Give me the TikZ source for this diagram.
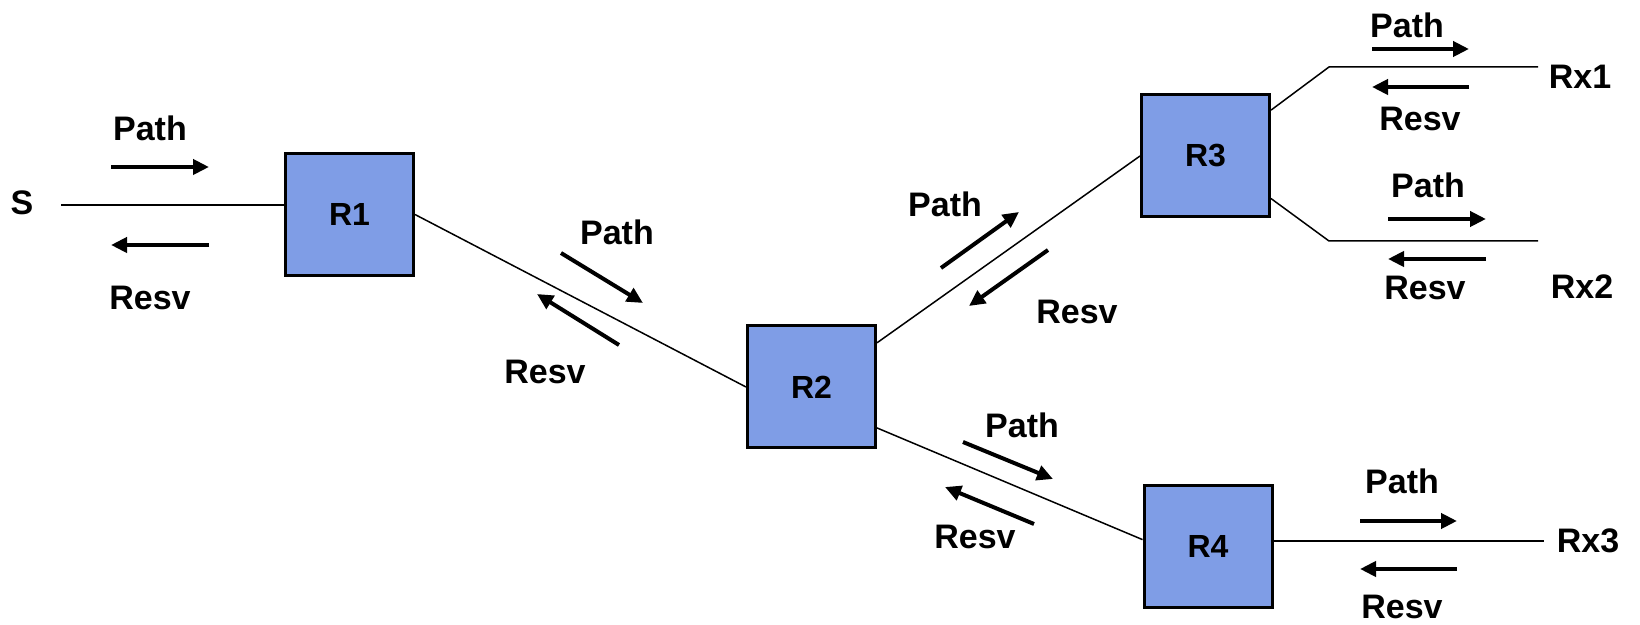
\documentclass[tikz,border=0pt]{standalone}
\usepackage{fontspec}
\setmainfont{Liberation Sans}
\usepackage{tikz}
\usetikzlibrary{arrows.meta}
\definecolor{boxblue}{RGB}{127,157,230}

\begin{document}
\begin{tikzpicture}[x=0.5pt, y=-0.5pt,
    router/.style={rectangle, draw, line width=1.5pt, fill=boxblue, minimum width=64pt, minimum height=61pt, font=\fontsize{16}{19}\selectfont\bfseries},
    lbl/.style={font=\fontsize{17}{20}\selectfont\bfseries, inner sep=0pt},
    link/.style={line width=0.75pt},
    msg/.style={line width=2pt, -{Triangle[length=8pt, width=7.5pt]}}]
    \useasboundingbox (0,0) rectangle (1640,625);
    % routers
    \node[router](r1) at (349.5,214.5){R1};
    \node[router](r2) at (811.5,387){R2};
    \node[router](r3) at (1205.5,156){R3};
    \node[router](r4) at (1208,546.5){R4};
    % hosts
    \node[lbl](s) at (22,203){S};
    \node[lbl](rx1) at (1580,77){Rx1};
    \node[lbl](rx2) at (1582,287){Rx2};
    \node[lbl](rx3) at (1588,541){Rx3};
    \coordinate (s0) at (61,205);
    \coordinate (k1) at (1329,67);
    \coordinate (e1) at (1538,67);
    \coordinate (k2) at (1329,241);
    \coordinate (e2) at (1538,241);
    \coordinate (e3) at (1544,541);
    % links
    \path[draw, link](s0)--(r1.west |- s0);
    \path[draw, link](r1.east)--(r2.west);
    \path[draw, link](r2.34)--(r3.west);
    \path[draw, link](r3.35)--(k1)--(e1);
    \path[draw, link](r3.-33)--(k2)--(e2);
    \path[draw, link](r2.-32)--(r4.174);
    \path[draw, link](r4.east |- e3)--(e3);
    % messages S - R1
    \node[lbl](p1) at (150,128){Path};
    \node[lbl](q1) at (150,298){Resv};
    \coordinate (p1a) at (111,167); \coordinate (p1b) at (209,167);
    \coordinate (q1a) at (209,245); \coordinate (q1b) at (111,245);
    \path[draw, msg](p1a)--(p1b);
    \path[draw, msg](q1a)--(q1b);
    % messages R1 - R2
    \node[lbl](p2) at (617,232){Path};
    \node[lbl](q2) at (545,372){Resv};
    \coordinate (p2a) at (561,253); \coordinate (p2b) at (643,303);
    \coordinate (q2a) at (619,345); \coordinate (q2b) at (537,294);
    \path[draw, msg](p2a)--(p2b);
    \path[draw, msg](q2a)--(q2b);
    % messages R2 - R3
    \node[lbl](p3) at (945,204){Path};
    \node[lbl](q3) at (1077,312){Resv};
    \coordinate (p3a) at (941,268); \coordinate (p3b) at (1019,212);
    \coordinate (q3a) at (1048,250); \coordinate (q3b) at (969,306);
    \path[draw, msg](p3a)--(p3b);
    \path[draw, msg](q3a)--(q3b);
    % messages R3 - Rx1
    \node[lbl](p4) at (1407,25){Path};
    \node[lbl](q4) at (1420,119){Resv};
    \coordinate (p4a) at (1372,49); \coordinate (p4b) at (1469,49);
    \coordinate (q4a) at (1469,87); \coordinate (q4b) at (1372,87);
    \path[draw, msg](p4a)--(p4b);
    \path[draw, msg](q4a)--(q4b);
    % messages R3 - Rx2
    \node[lbl](p5) at (1428,185){Path};
    \node[lbl](q5) at (1425,288){Resv};
    \coordinate (p5a) at (1388,219); \coordinate (p5b) at (1486,219);
    \coordinate (q5a) at (1486,259); \coordinate (q5b) at (1388,259);
    \path[draw, msg](p5a)--(p5b);
    \path[draw, msg](q5a)--(q5b);
    % messages R2 - R4
    \node[lbl](p6) at (1022,425){Path};
    \node[lbl](q6) at (975,537){Resv};
    \coordinate (p6a) at (963,442); \coordinate (p6b) at (1053,479);
    \coordinate (q6a) at (1034,524); \coordinate (q6b) at (945,487);
    \path[draw, msg](p6a)--(p6b);
    \path[draw, msg](q6a)--(q6b);
    % messages R4 - Rx3
    \node[lbl](p7) at (1402,481){Path};
    \node[lbl](q7) at (1402,607){Resv};
    \coordinate (p7a) at (1360,521); \coordinate (p7b) at (1457,521);
    \coordinate (q7a) at (1457,569); \coordinate (q7b) at (1360,569);
    \path[draw, msg](p7a)--(p7b);
    \path[draw, msg](q7a)--(q7b);
\end{tikzpicture}
\end{document}
